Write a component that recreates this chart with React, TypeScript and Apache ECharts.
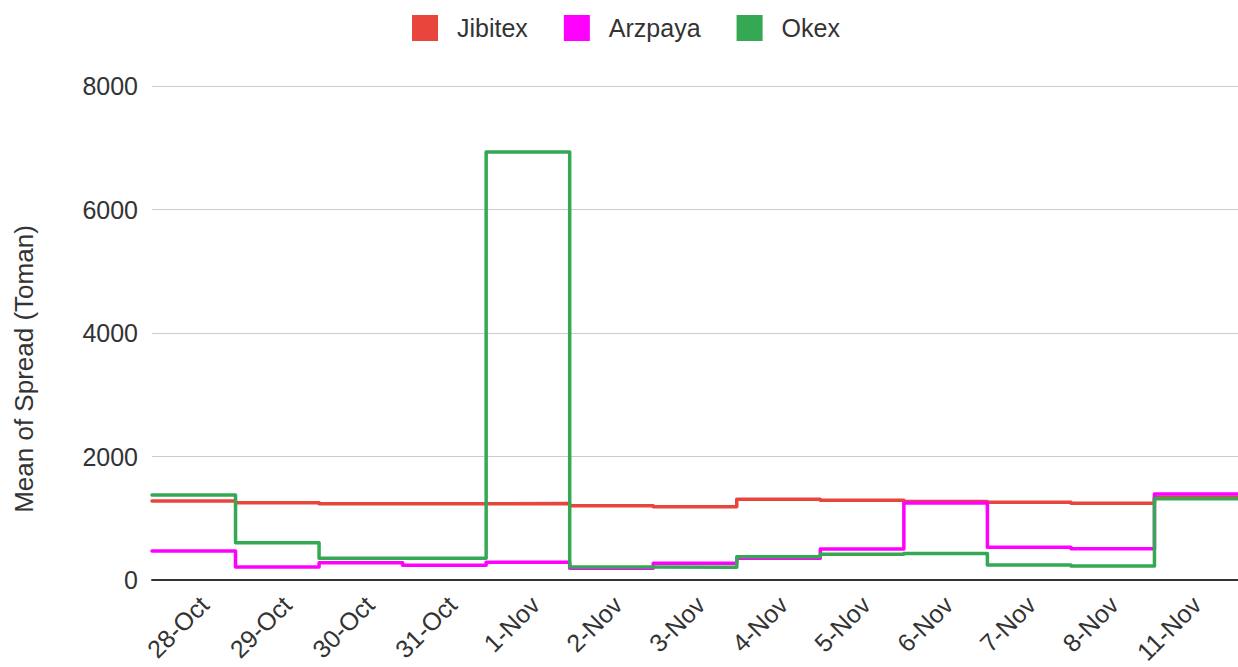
import React, { useEffect, useRef } from "react";
import * as echarts from "echarts";

const categories = ["28-Oct", "29-Oct", "30-Oct", "31-Oct", "1-Nov", "2-Nov", "3-Nov", "4-Nov", "5-Nov", "6-Nov", "7-Nov", "8-Nov", "11-Nov"];
const jibitex = [1280, 1252, 1236, 1235, 1238, 1204, 1188, 1306, 1290, 1272, 1258, 1242, 1340];
const arzpaya = [470, 210, 281, 237, 286, 189, 270, 351, 502, 1247, 529, 508, 1393];
const okex = [1377, 605, 351, 351, 6930, 210, 205, 378, 416, 428, 243, 227, 1317];
const yTicks = { min: 0, max: 8000, interval: 2000 };
const seriesNames = ["Jibitex", "Arzpaya", "Okex"];
const colors = ["#E8453C", "#FF00FF", "#34A853"];

const FONT = "'Liberation Sans', Arial, sans-serif";

function toSteps(values: number[]) {
  const pts = values.map((v, i) => [i, v]);
  pts.push([values.length, values[values.length - 1]]);
  return pts;
}

export default function App() {
  const ref = useRef<HTMLDivElement>(null);
  useEffect(() => {
    if (!ref.current) return;
    const chart = echarts.init(ref.current, undefined, { renderer: "svg" });
    const all = [jibitex, arzpaya, okex];
    chart.setOption({
      animation: false,
      backgroundColor: "#ffffff",
      textStyle: { fontFamily: FONT },
      legend: {
        top: 15,
        left: 412,
        padding: 0,
        itemWidth: 26,
        itemHeight: 26,
        itemGap: 36,
        icon: "rect",
        data: seriesNames,
        textStyle: { fontSize: 25, color: "#333", fontFamily: FONT, padding: [0, 0, 0, 14] },
      },
      grid: [
        { left: 152, right: 0, top: 86, bottom: 87 },
        { left: 163, right: -11, top: 86, bottom: 87 },
      ],
      xAxis: [
        {
          type: "value",
          gridIndex: 0,
          min: 0,
          max: categories.length,
          show: true,
          axisLine: { show: true, onZero: false, lineStyle: { color: "#333", width: 2 } },
          axisTick: { show: false },
          axisLabel: { show: false },
          splitLine: { show: false },
        },
        {
          type: "category",
          gridIndex: 1,
          data: categories,
          boundaryGap: true,
          axisLine: { show: false },
          axisTick: { show: false },
          splitLine: { show: false },
          axisLabel: { rotate: 45, margin: 28, fontSize: 25, color: "#333", fontFamily: FONT, interval: 0 },
        },
      ],
      yAxis: [
        {
          type: "value",
          gridIndex: 0,
          min: yTicks.min,
          max: yTicks.max,
          interval: yTicks.interval,
          axisLine: { show: false },
          axisTick: { show: false },
          axisLabel: { fontSize: 25, color: "#333", margin: 14, fontFamily: FONT, formatter: (v: number) => String(v) },
          splitLine: { lineStyle: { color: "#cccccc", width: 1 } },
        },
        {
          type: "value",
          gridIndex: 1,
          show: false,
          min: 0,
          max: 1,
        },
      ],
      graphic: [
        {
          type: "text",
          x: 24,
          y: 369,
          rotation: Math.PI / 2,
          style: {
            text: "Mean of Spread (Toman)",
            fontSize: 26,
            fill: "#333",
            fontFamily: FONT,
            textAlign: "center",
            textVerticalAlign: "middle",
          },
        },
      ],
      series: seriesNames.map((name, k) => ({
        name,
        type: "line",
        xAxisIndex: 0,
        yAxisIndex: 0,
        step: "end",
        showSymbol: false,
        symbol: "none",
        data: toSteps(all[k]),
        color: colors[k],
        lineStyle: { color: colors[k], width: 3.5, join: "round", cap: "round" },
        z: 2 + k,
      })),
    });
    return () => chart.dispose();
  }, []);
  return <div ref={ref} style={{ position: "fixed", left: 0, top: 0, width: 1238, height: 667 }} />;
}
